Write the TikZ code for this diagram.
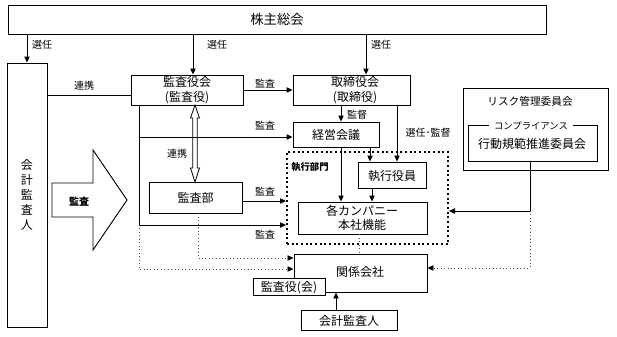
\documentclass[tikz,border=0pt]{standalone}
\usepackage{fontspec}
\setmainfont{Noto Sans CJK JP}
\usetikzlibrary{arrows.meta,fit}
\begin{document}
\begin{tikzpicture}[x=0.75pt,y=-0.75pt,
  box/.style={draw,line width=0.7pt,inner sep=0pt},
  txt/.style={font=\fontsize{9}{11}\selectfont,inner sep=0pt,text height=0.87em,text depth=0.13em},
  two/.style={font=\fontsize{9}{11}\selectfont,inner sep=0pt,align=center},
  lbl/.style={font=\fontsize{7.5}{9}\selectfont,inner sep=0pt,text height=0.87em,text depth=0.13em},
  arr/.style={-{Triangle[length=4.5pt,width=4pt]},line width=0.7pt},
  ln/.style={line width=0.7pt},
  dotl/.style={dotted,gray!60!black,line width=0.6pt},
  dotarr/.style={dotted,gray!60!black,line width=0.6pt,-{Triangle[length=4.5pt,width=4pt,color=black]}},
]
\useasboundingbox (0,0) rectangle (617,336);

% boxes
\node[box,fit={(8,5) (546,34)}] (sh) {};
\node[txt,font=\fontsize{10}{12}\selectfont] (sht) at (277,20) {株主総会};
\node[box,fit={(7,63) (47,327)}] (kk) {};
\node[font=\fontsize{9}{11.2}\selectfont,align=center,inner sep=0pt] (kkt) at (27,195) {会\\計\\監\\査\\人};
\node[box,fit={(131,75) (243,105)}] (ka) {};
\node[two] (kat) at (187,90) {監査役会\\(監査役)};
\node[box,fit={(293,75) (410,105)}] (tr) {};
\node[two] (trt) at (355,90) {取締役会\\(取締役)};
\node[box,fit={(293,122) (379,147)}] (kg) {};
\node[txt] (kgt) at (336,135) {経営会議};
\node[draw,dotted,line width=1.5pt,inner sep=0pt,fit={(287,152) (448,244)}] (sb) {};
\node[font=\fontsize{7}{8}\selectfont\bfseries,anchor=west,inner sep=0pt,text height=0.87em,text depth=0.13em] (sbt) at (291,166) {執行部門};
\node[box,fit={(358,162) (426,188)}] (sy) {};
\node[txt] (syt) at (392,175.5) {執行役員};
\node[box,fit={(298,202) (427,234)}] (kc) {};
\node[two] (kct) at (362,218) {各カンパニー\\本社機能};
\node[box,fit={(294,254) (427,292)}] (kn) {};
\node[txt] (knt) at (360,272) {関係会社};
\node[box,fit={(253,278) (325,295)},fill=white] (ky) {};
\node[txt] (kyt) at (289,287) {監査役(会)};
\node[box,fit={(301,310) (397,330)}] (kk2) {};
\node[txt] (kk2t) at (349,320.5) {会計監査人};
\node[box,fit={(149,182) (242,213)}] (bu) {};
\node[txt] (but) at (195.5,198) {監査部};
\node[box,fit={(463,88) (608,170)}] (rk) {};
\node[txt,font=\fontsize{8}{10}\selectfont] (rkt) at (530,101) {リスク管理委員会};
\node[box,fit={(468,125) (597,161)}] (cp) {};
\node[txt] (cpt) at (532,144) {行動規範推進委員会};
\node[txt,font=\fontsize{7}{8}\selectfont,fill=white,inner xsep=4pt] (cpl) at (531,125) {コンプライアンス};

% big hollow arrow
\draw[line width=0.7pt,fill=white] (52,183) -- (93,183) -- (93,150) -- (127,200) -- (93,250) -- (93,217) -- (52,217) -- cycle;
\node[lbl,font=\fontsize{7.5}{9}\selectfont\bfseries] (bga) at (79,201) {監査};

% hollow double arrow
\draw[line width=0.6pt,fill=white] (195,105) -- (199.5,118) -- (197.3,118) -- (197.3,168) -- (199.5,168) -- (195,182) -- (190.5,168) -- (192.7,168) -- (192.7,118) -- (190.5,118) -- cycle;
\node[lbl] (lrk2) at (177,153) {連携};

% election arrows
\draw[arr] (sh.south -| kk.north) -- (kk.north);
\node[lbl] (s1) at (42,44) {選任};
\draw[arr] (193,0 |- sh.south) -- (193,0 |- ka.north);
\node[lbl] (s2) at (217,44) {選任};
\draw[arr] (366,0 |- sh.south) -- (366,0 |- tr.north);
\node[lbl] (s3) at (381,44) {選任};

% renkei
\draw[ln] (kk.east |- 0,95) -- (ka.west |- 0,95);
\node[lbl] (lrk) at (84,85) {連携};

% audit arrows
\draw[arr] (ka.east |- 0,90) -- (tr.west |- 0,90);
\node[lbl] (a1) at (265,83) {監査};
\coordinate (kl) at (139,225);
\draw[ln] (139,0 |- ka.south) -- (kl);
\draw[arr] (139,137) -- (kg.west |- 0,137);
\node[lbl] (a2) at (265,125) {監査};
\draw[arr] (kl) -- (sb.west |- kl);
\node[lbl] (a4) at (265,234) {監査};
\draw[arr] (bu.east |- 0,201) -- (sb.west |- 0,201);
\node[lbl] (a3) at (265,191) {監査};

% dotted
\draw[dotarr] (kl) -- (139,269) -- (kn.west |- 0,269);
\draw[dotarr] (198,0 |- bu.south) -- (198,258) -- (kn.west |- 0,258);
\draw[dotl] (359,0 |- kc.south) -- (359,0 |- kn.north);

% board
\draw[arr] (341,0 |- tr.south) -- (341,0 |- kg.north);
\node[lbl] (kt) at (357,114) {監督};
\draw[arr] (397,0 |- tr.south) -- (397,0 |- sy.north);
\node[lbl] (kt2) at (428,132) {選任･監督};
\draw[arr] (341,0 |- kg.south) -- (341,0 |- kc.north);
\draw[arr] (370,0 |- kg.south) -- (370,0 |- sy.north);
\draw[arr] (372,0 |- sy.south) -- (372,0 |- kc.north);

% risk
\coordinate (rj) at (530,211);
\draw[ln] (530,0 |- cp.south) -- (rj);
\draw[arr] (rj) -- (sb.east |- rj);
\draw[dotarr] (rj) -- (530,268) -- (kn.east |- 0,268);

% bottom auditor
\draw[arr] (kk2.north -| 336,0) -- (kn.south -| 336,0);
\end{tikzpicture}
\end{document}
